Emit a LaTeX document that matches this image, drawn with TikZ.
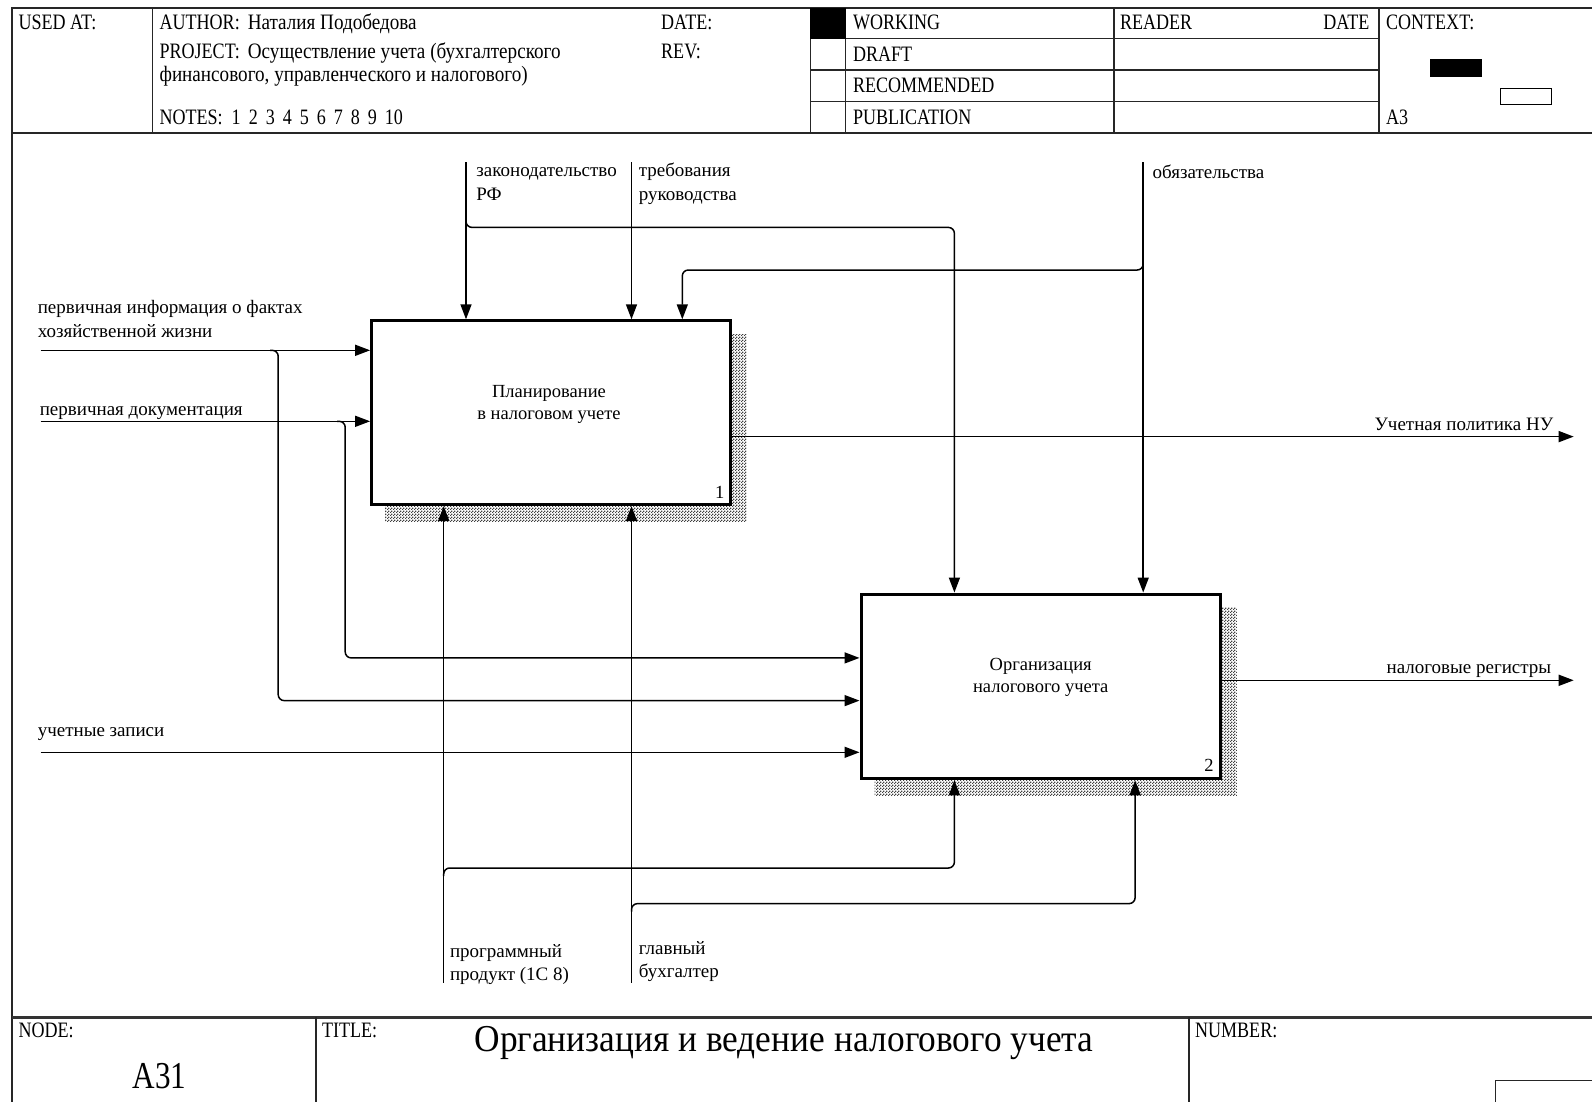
\documentclass[tikz,border=0pt]{standalone}
\usepackage{fontspec}
\setmainfont{Liberation Serif}
\newfontfamily\hdrfont{Liberation Serif}[FakeStretch=0.82]
\newfontfamily\hdrcyr{Liberation Serif}[FakeStretch=0.87]
\newfontfamily\ttlfont{Liberation Serif}[FakeStretch=0.93]
\usetikzlibrary{arrows.meta,patterns.meta,backgrounds,calc}

% fine dither used for the box shadows
\tikzdeclarepattern{
  name=finecheck,
  type=uncolored,
  bounding box={(0pt,0pt) and (3pt,3pt)},
  tile size={(3pt,3pt)},
  code={
    \fill (0pt,0pt) rectangle (1.5pt,1.5pt);
    \fill (1.5pt,1.5pt) rectangle (3pt,3pt);
  }
}

\tikzset{
  borderline/.style={line width=1.6pt, black!85},
  hline/.style={line width=1.4pt, black!85},
  proc/.style={draw, line width=3pt, fill=white, inner sep=0pt},
  arrowline/.style={line width=1.5pt, rounded corners=6pt,
    -{Triangle[length=15pt,width=11pt]}},
  lbl/.style={font=\fontsize{19}{23.4}\selectfont, inner sep=0pt, align=left, anchor=north west},
  lblr/.style={lbl, align=right, anchor=north east},
  boxlbl/.style={font=\fontsize{18.5}{22}\selectfont, inner sep=0pt, align=center, anchor=north},
  hdr/.style={font=\hdrfont\fontsize{22}{23.4}\selectfont, inner sep=0pt, anchor=base west},
  boxshadow/.style={pattern={finecheck}, pattern color=black!75},
}

\begin{document}
\begin{tikzpicture}[x=1pt,y=-1pt]
\useasboundingbox (0,0) rectangle (1592,1101);
\clip (0,0) rectangle (1592,1101);

% ---------- form frame and header grid ----------
\draw[borderline] (12.2,1120) -- (12.2,8.1) -- (1600,8.1);
\draw[hline] (12.2,133) -- (1600,133);
\foreach \yy in {38.6,70.1,101.5}
  \draw[hline] (810.2,\yy) -- (1378.8,\yy);
\foreach \xx in {152.3,810.2,845.7,1113.8,1378.8}
  \draw[hline] (\xx,8.1) -- (\xx,133);
\fill (810.2,8.1) rectangle (845.7,38.6);

\node[hdr] (usedat) at (18.3,29.6) {USED AT:};
\node[hdr] (author) at (159.4,29.6) {AUTHOR:\hspace*{8pt}{\hdrcyr Наталия Подобедова}};
\node[hdr] (date) at (661,29.6) {DATE:};
\node[hdr] (project) at (159.4,58.1) {PROJECT:\hspace*{8pt}{\hdrcyr Осуществление учета (бухгалтерского}};
\node[hdr] (project2) at (159.4,81.2) {\hdrcyr финансового, управленческого и налогового)};
\node[hdr] (rev) at (661,58.1) {REV:};
\node[hdr] (notes) at (159.4,124.1) {NOTES:\hspace*{9pt}1\hspace*{8pt}2\hspace*{8pt}3\hspace*{8pt}4\hspace*{8pt}5\hspace*{8pt}6\hspace*{8pt}7\hspace*{8pt}8\hspace*{8pt}9\hspace*{8pt}10};
\node[hdr] (working) at (852.8,29.6) {WORKING};
\node[hdr] (draft) at (852.8,61.9) {DRAFT};
\node[hdr] (recommended) at (852.8,92.6) {RECOMMENDED};
\node[hdr] (publication) at (852.8,124.1) {PUBLICATION};
\node[hdr] (reader) at (1119.9,29.6) {READER};
\node[hdr, anchor=base east] (rdate) at (1369.6,29.6) {DATE};
\node[hdr] (context) at (1385.9,29.6) {CONTEXT:};
\node[hdr] (ctxnode) at (1385.9,124.1) {A3};
\fill (1429.5,58.9) rectangle (1482.3,77.2);
\draw[line width=1.4pt] (1500.6,88.3) rectangle (1551.4,104.6);

% ---------- footer ----------
\draw[line width=2.5pt, black!80] (12.2,1017.3) -- (1600,1017.3);
\draw[hline] (315.8,1017.3) -- (315.8,1120);
\draw[hline] (1188.9,1017.3) -- (1188.9,1120);
\draw[hline] (1495.5,1120) |- (1600,1080.3);
\node[hdr] (nodelbl) at (18.3,1037.8) {NODE:};
\node[hdr] (titlelbl) at (321.8,1037.8) {TITLE:};
\node[hdr] (numberlbl) at (1194.9,1037.8) {NUMBER:};
\node[font=\ttlfont\fontsize{38}{40}\selectfont, inner sep=0pt, anchor=base] (title) at (784,1051) {Организация и ведение\hspace*{10pt}налогового учета};
\node[font=\hdrfont\fontsize{38}{40}\selectfont, inner sep=0pt, anchor=base] (nodeid) at (159.4,1088.5) {A31};

% ---------- activity boxes ----------
\node[proc, minimum width=358.4pt, minimum height=183.8pt] (b1) at (550.8,412.7) {};
\node[proc, minimum width=359.4pt, minimum height=184.7pt] (b2) at (1040.7,686.4) {};
\begin{scope}[on background layer]
  \path[boxshadow] ($(b1.north west)+(15,15)$) rectangle ($(b1.south east)+(15,15)$);
  \path[boxshadow] ($(b2.north west)+(15,15)$) rectangle ($(b2.south east)+(15,15)$);
\end{scope}
\node[boxlbl] (b1text) at (549,381.7) {\strut Планирование\\в налоговом учете};
\node[boxlbl] (b2text) at (1040.7,654.5) {\strut Организация\\налогового учета};
\node[font=\fontsize{18.5}{22}\selectfont, inner sep=0pt, anchor=base east] (b1num) at ($(b1.south east)+(-7,-7.5)$) {1};
\node[font=\fontsize{18.5}{22}\selectfont, inner sep=0pt, anchor=base east] (b2num) at ($(b2.south east)+(-8,-8.5)$) {2};

% ---------- connector end points ----------
\coordinate (lawsrc) at (466,162.4);
\coordinate (mgmtsrc) at (631.5,162.4);
\coordinate (oblsrc) at (1143.2,162.4);
\coordinate (in1src) at (40.6,350.3);
\coordinate (in2src) at (40.6,421.3);
\coordinate (in3src) at (40.6,752.3);
\coordinate (out1end) at (1573.7,436.6);
\coordinate (out2end) at (1573.7,680.3);
\coordinate (mech1src) at (443.7,982.8);
\coordinate (mech2src) at (631.5,982.8);

% forks and turns of the branching arrows
\coordinate (lawfork) at (466,219);
\coordinate (lawturn) at (954.4,227.4);
\coordinate (oblfork) at (1143.2,261.5);
\coordinate (oblturn) at (682.3,270);
\coordinate (in1fork) at (270,350.3);
\coordinate (in1turn) at (278.2,700.6);
\coordinate (in2fork) at (337,421.3);
\coordinate (in2turn) at (345.2,657.9);
\coordinate (mech1fork) at (443.7,876);
\coordinate (mech1turn) at (954.4,868);
\coordinate (mech2fork) at (631.5,911.5);
\coordinate (mech2turn) at (1135.1,903.6);

% ---------- controls ----------
\draw[arrowline] (lawsrc) -- (lawsrc |- b1.north);
\draw[arrowline] (mgmtsrc) -- (mgmtsrc |- b1.north);
\draw[arrowline] (oblsrc) -- (oblsrc |- b2.north);
\draw[arrowline] (lawfork) |- (lawturn) -- (lawturn |- b2.north);
\draw[arrowline] (oblfork) |- (oblturn) -- (oblturn |- b1.north);

% ---------- inputs ----------
\draw[arrowline] (in1src) -- (in1src -| b1.west);
\draw[arrowline] (in2src) -- (in2src -| b1.west);
\draw[arrowline] (in3src) -- (in3src -| b2.west);
\draw[arrowline] (in1fork) -| (in1turn) -- (in1turn -| b2.west);
\draw[arrowline] (in2fork) -| (in2turn) -- (in2turn -| b2.west);

% ---------- outputs ----------
\draw[arrowline] (out1end -| b1.east) -- (out1end);
\draw[arrowline] (out2end -| b2.east) -- (out2end);

% ---------- mechanisms ----------
\draw[arrowline] (mech1src) -- (mech1src |- b1.south);
\draw[arrowline] (mech2src) -- (mech2src |- b1.south);
\draw[arrowline] (mech1fork) |- (mech1turn) -- (mech1turn |- b2.south);
\draw[arrowline] (mech2fork) |- (mech2turn) -- (mech2turn |- b2.south);

% ---------- arrow labels ----------
\node[lbl] (in1lbl) at (37.6,297.3) {\strut первичная информация о фактах\\хозяйственной жизни};
\node[lbl] (in2lbl) at (39.6,398.9) {\strut первичная документация};
\node[lbl] (in3lbl) at (37.6,720.2) {\strut учетные записи};
\node[lbl] (lawlbl) at (476.2,160.3) {\strut законодательство\\РФ};
\node[lbl] (mgmtlbl) at (638.6,160.3) {\strut требования\\руководства};
\node[lbl] (obllbl) at (1152.4,162.3) {\strut обязательства};
\node[lblr] (out1lbl) at (1553.4,414) {\strut Учетная политика НУ};
\node[lblr] (out2lbl) at (1551.4,657.2) {\strut налоговые регистры};
\node[lbl] (mech1lbl) at (449.8,941) {\strut программный\\продукт (1С 8)};
\node[lbl] (mech2lbl) at (638.6,938) {\strut главный\\бухгалтер};
\end{tikzpicture}
\end{document}
